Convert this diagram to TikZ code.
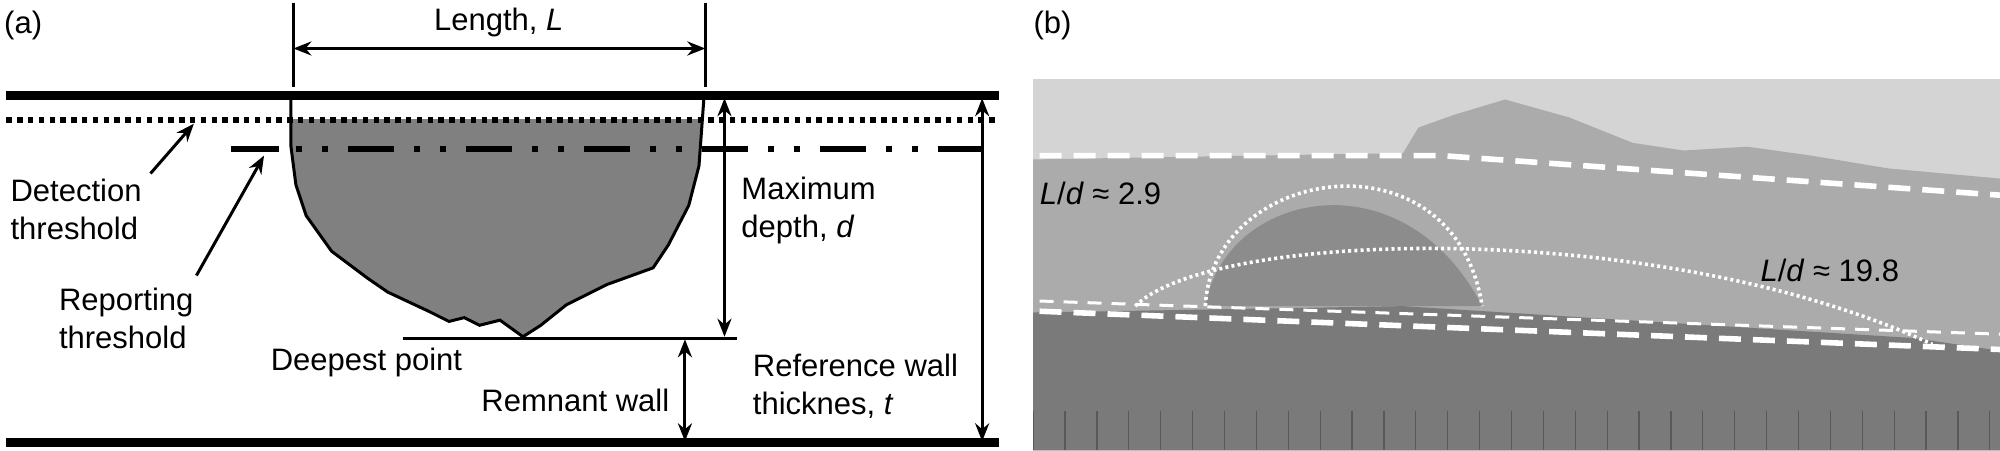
\documentclass[tikz,border=0pt]{standalone}
\usepackage{fontspec}
\setmainfont{Liberation Sans}
\usetikzlibrary{arrows.meta}
\begin{document}
\begin{tikzpicture}[x=0.6378pt,y=-0.6378pt,
  lbl/.style={font=\fontsize{15.5}{19}\selectfont, inner sep=0pt},
  dim/.style={line width=1.5pt,{Stealth[length=9pt,width=7pt]}-{Stealth[length=9pt,width=7pt]}},
  ptr/.style={line width=1.5pt,-{Stealth[length=9pt,width=7pt]}},
  wall/.style={line width=4.5pt},
  wdash/.style={white,line width=2.8pt,dash pattern=on 11pt off 6pt},
  wdashthin/.style={white,line width=1.5pt,dash pattern=on 7pt off 5pt},
  wdot/.style={white,line width=1.8pt,dash pattern=on 1.5pt off 1.6pt}]
\useasboundingbox (0,0) rectangle (1568,352.8);
% ---------- panel (a)
\node[lbl,anchor=west] (la) at (3,20) {(a)};
\begin{scope}
\clip (0,94) rectangle (800,400);
\fill[black!50] (228,75) -- (228,114) -- (232,145) -- (240,169) -- (260,197) -- (288,218) -- (304,229) -- (336,244) -- (352,252) -- (364,249) -- (376,255) -- (392,251) -- (410,264) -- (424,255) -- (444,239) -- (476,223) -- (512,210) -- (524,192) -- (540,161) -- (548,130) -- (552,75) -- cycle;
\end{scope}
\draw[line width=1.5pt] (228,75) -- (228,114) -- (232,145) -- (240,169) -- (260,197) -- (288,218) -- (304,229) -- (336,244) -- (352,252) -- (364,249) -- (376,255) -- (392,251) -- (410,264) -- (424,255) -- (444,239) -- (476,223) -- (512,210) -- (524,192) -- (540,161) -- (548,130) -- (552,75);
\coordinate (tl) at (5,75); \coordinate (tr) at (783,75);
\coordinate (bl) at (5,347); \coordinate (br) at (783,347);
\draw[wall] (tl) -- (tr);
\draw[wall] (bl) -- (br);
\draw[line width=3pt,dash pattern=on 2.7pt off 2.7pt] (5,94) -- (783,94);
\draw[line width=3pt] (181,117) -- (219,117);
\draw[line width=3pt,dash pattern=on 3pt off 10pt on 3pt off 10pt on 23pt off 10pt] (232,117) -- (783,117);
\coordinate (lt1) at (230,2); \coordinate (lb1) at (230,68);
\coordinate (lt2) at (553,2); \coordinate (lb2) at (553,68);
\draw[line width=1.5pt] (lt1) -- (lb1) (lt2) -- (lb2);
\draw[dim] (230,38) -- (553,38);
\node[lbl] (len) at (391,18) {Length, \textit{L}};
\coordinate (dp1) at (316,265); \coordinate (dp2) at (578,265);
\draw[line width=1.5pt] (dp1) -- (dp2);
\draw[dim] (568,77) -- (568,264);
\draw[dim] (537,266) -- (537,346);
\draw[dim] (770,77) -- (770,346);
\node[lbl,anchor=west,align=left] (det) at (8,164) {Detection\\threshold};
\node[lbl,anchor=west,align=left] (rep) at (46,250) {Reporting\\threshold};
\coordinate (detT) at (152,97); \coordinate (repT) at (207,122);
\draw[ptr] (118,136) -- (detT);
\draw[ptr] (154,216) -- (repT);
\node[lbl,anchor=west,align=left] (md) at (581,165) {Maximum\\depth, \textit{d}};
\node[lbl,anchor=west] (dpt) at (212,284) {Deepest point};
\node[lbl,anchor=east] (rw) at (525,314) {Remnant wall};
\node[lbl,anchor=west,align=left] (rt) at (590,303) {Reference wall\\thicknes, \textit{t}};
% ---------- panel (b)
\node[lbl,anchor=west] (lb) at (810,20) {(b)};
\begin{scope}
\clip (810,62) rectangle (1568,353);
\fill[black!17] (810,62) rectangle (1568,353);
\fill[black!33] (810,125) -- (1100,120) -- (1112,100) -- (1140,90) -- (1180,78) -- (1230,92) -- (1280,112) -- (1320,118) -- (1370,115) -- (1420,122) -- (1480,132) -- (1568,140) -- (1568,353) -- (810,353) -- cycle;
\fill[black!45] (945,240) .. controls (960,150) and (1100,120) .. (1162,240) -- cycle;
\fill[black!52] (810,245) -- (1100,240) -- (1500,265) -- (1568,275) -- (1568,353) -- (810,353) -- cycle;
\foreach \i in {0,...,30} \draw[black!65,line width=0.6pt] (810+\i*25,322) -- (810+\i*25,353);
\draw[wdash] (815,122) -- (1130,122) -- (1568,153);
\draw[wdashthin] (815,236) -- (1568,262);
\draw[wdash] (815,244) -- (1568,274);
\draw[wdot] (945,240) .. controls (950,130) and (1140,100) .. (1162,240);
\draw[wdot] (890,240) .. controls (950,180) and (1300,170) .. (1515,270);
\end{scope}
\node[lbl,anchor=west] (r1) at (815,152) {\textit{L}/\textit{d} ≈ 2.9};
\node[lbl,anchor=west] (r2) at (1380,212) {\textit{L}/\textit{d} ≈ 19.8};
\end{tikzpicture}
\end{document}
